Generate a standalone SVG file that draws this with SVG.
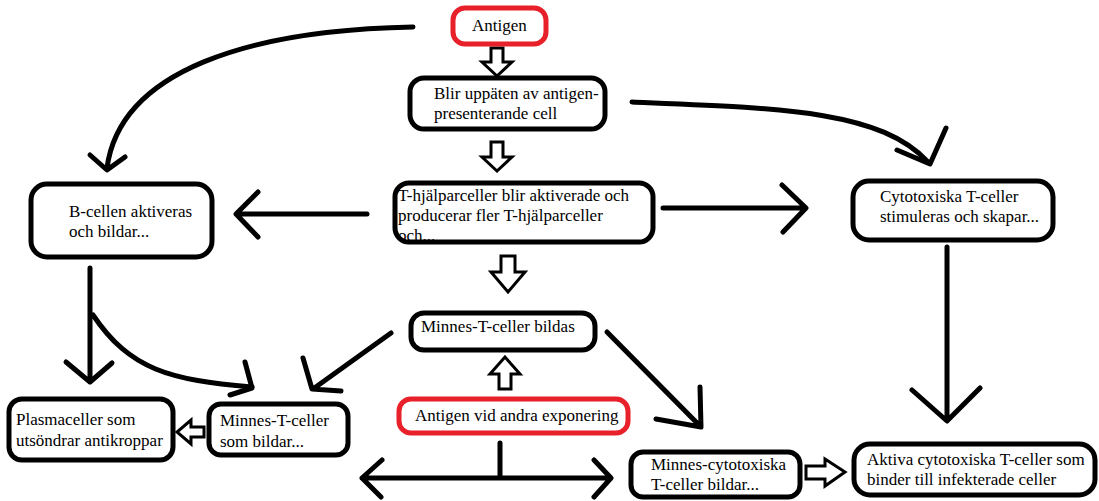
<svg xmlns="http://www.w3.org/2000/svg" width="1099" height="501" viewBox="0 0 1099 501">
<style>
.box{fill:#fff;stroke:#000;stroke-width:5}
.red{fill:#fff;stroke:#e8202a;stroke-width:5}
.t{font-family:"Liberation Serif",serif;font-size:17px;fill:#000}
.ln{fill:none;stroke:#000;stroke-width:5;stroke-linecap:round;stroke-linejoin:round}
.blk{fill:#fff;stroke:#000;stroke-width:3;stroke-linejoin:miter}
</style>
<rect width="1099" height="501" fill="#fff"/>
<g id="connectors">
<path class="ln" d="M413,27 C250,30 120,70 107,168"/>
<path class="ln" d="M90,155 L107,170 L125,157"/>
<path class="ln" d="M632,102 C780,108 880,110 928,162"/>
<path class="ln" d="M897,150 L930,164 L946,128"/>
<path class="ln" d="M367,214 L237,214 M258,192 L236,214 L258,237"/>
<path class="ln" d="M663,208 L805,208 M782,185 L806,208 L783,232"/>
<path class="ln" d="M90,268 L90,382 M66,362 L90,382 L112,363"/>
<path class="ln" d="M93,315 C130,370 170,380 252,387"/>
<path class="ln" d="M245,362 L252,388 L230,395"/>
<path class="ln" d="M391,333 L313,389 M303,358 L312,389 L341,391"/>
<path class="ln" d="M607,332 L700,426 M700,387 L701,427 L656,419"/>
<path class="ln" d="M947,247 L947,420 M912,390 L947,421 L980,388"/>
<path class="ln" d="M500,443 L500,477 M362,478 L610,478 M382,460 L362,478 L381,497 M594,460 L611,478 M611,478 L594,497"/>
<polygon class="blk" points="491,48 503,48 503,62 512,62 497,76 482,62 491,62"/>
<polygon class="blk" points="491,142 503,142 503,157 512,157 497,171 482,157 491,157"/>
<polygon class="blk" points="501,256 515,256 515,272 525,272 508,292 491,272 501,272"/>
<polygon class="blk" points="499,389 511,389 511,374 520,374 505,357 490,374 499,374"/>
<polygon class="blk" points="204,427 191,427 191,420 177,432 191,444 191,437 204,437"/>
<polygon class="blk" points="806,466 825,466 825,459 845,472 825,486 825,479 806,479"/>
</g>
<g id="n-antigen"><rect class="red" x="453" y="8" width="93" height="36" rx="12"/><text class="t" x="472" y="31">Antigen</text></g>
<g id="n-blir"><rect class="box" x="410" y="78" width="195" height="51" rx="14"/><text class="t" x="434" y="99">Blir uppäten av antigen-</text><text class="t" x="434" y="119">presenterande cell</text></g>
<g id="n-thjalp"><rect class="box" x="395" y="183" width="258" height="59" rx="14"/><text class="t" x="398" y="201">T-hjälparceller blir aktiverade och</text><text class="t" x="398" y="221">producerar fler T-hjälparceller</text><text class="t" x="398" y="241">och...</text></g>
<g id="n-bcell"><rect class="box" x="31" y="184" width="181" height="73" rx="16"/><text class="t" x="69" y="217">B-cellen aktiveras</text><text class="t" x="69" y="237">och bildar...</text></g>
<g id="n-cyto"><rect class="box" x="853" y="181" width="200" height="59" rx="16"/><text class="t" x="880" y="202">Cytotoxiska T-celler</text><text class="t" x="880" y="222">stimuleras och skapar...</text></g>
<g id="n-minnes"><rect class="box" x="411" y="313" width="184" height="37" rx="13"/><text class="t" x="421" y="332">Minnes-T-celler bildas</text></g>
<g id="n-antigen2"><rect class="red" x="399" y="399" width="229" height="34" rx="12"/><text class="t" x="415" y="421">Antigen vid andra exponering</text></g>
<g id="n-plasma"><rect class="box" x="9" y="399" width="164" height="61" rx="13"/><text class="t" x="16" y="425">Plasmaceller som</text><text class="t" x="16" y="446">utsöndrar antikroppar</text></g>
<g id="n-minnes2"><rect class="box" x="209" y="404" width="139" height="51" rx="12"/><text class="t" x="220" y="426">Minnes-T-celler</text><text class="t" x="220" y="447">som bildar...</text></g>
<g id="n-minnescyto"><rect class="box" x="631" y="452" width="169" height="45" rx="12"/><text class="t" x="651" y="470">Minnes-cytotoxiska</text><text class="t" x="651" y="490">T-celler bildar...</text></g>
<g id="n-aktiva"><rect class="box" x="854" y="444" width="241" height="51" rx="16"/><text class="t" x="867" y="465">Aktiva cytotoxiska T-celler som</text><text class="t" x="867" y="485">binder till infekterade celler</text></g>
</svg>
